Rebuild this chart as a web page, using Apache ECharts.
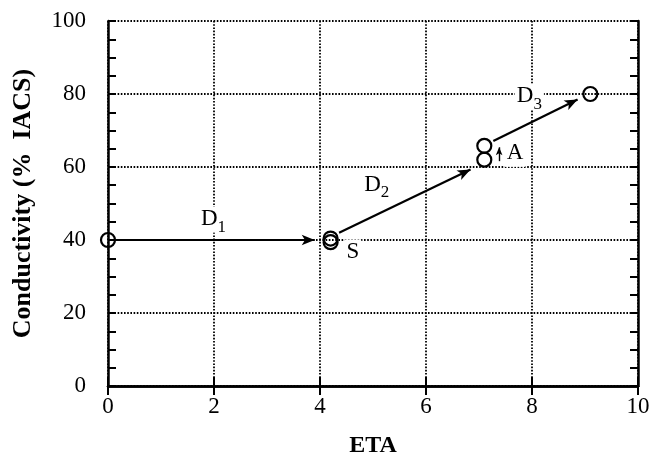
<!DOCTYPE html>
<html>
<head>
<meta charset="utf-8">
<script src="https://cdn.jsdelivr.net/npm/echarts@6/dist/echarts.min.js"></script>
<style>html,body{margin:0;padding:0;background:#fff}#c{width:660px;height:463px}</style>
</head>
<body>
<div id="c"></div>
<script>
// ---- data ----
var xTicks = [0, 2, 4, 6, 8, 10];
var yTicks = [0, 20, 40, 60, 80, 100];
var circles = [[0, 40], [4.2, 40.4], [4.2, 39.4], [7.1, 62], [7.1, 65.8], [9.1, 80]];
var segD1 = [[0.13, 40], [3.9, 40]];
var segD2 = [[4.36, 42], [6.84, 59.3]];
var segD3 = [[7.27, 67.1], [8.86, 78.5]];
var segA = [[7.38, 61.6], [7.38, 65.4]];
var labelNames = ['D1', 'D2', 'D3', 'S', 'A'];
var labelPos = [[1.99, 45.6], [5.07, 55.0], [7.95, 79.3], [4.62, 36.6], [7.68, 63.6]];

var FONT = 'Liberation Serif';
var chart = echarts.init(document.getElementById('c'), null, {renderer: 'canvas'});

function seg(s) { return [{coord: s[0]}, {coord: s[1]}]; }

var labelData = labelNames.map(function (n, i) { return {name: n, value: labelPos[i]}; });

function fmt(p) {
  var n = p.name;
  if (n.charAt(0) === 'D') return '{d|D}{s|' + n.charAt(1) + '}';
  return '{d|' + n + '}';
}

var tickStyle = {color: '#000', width: 2};
var axisLineStyle = {color: '#000', width: 2.5};
var gridStyle = {color: '#000', width: 1.8, type: [1.6, 1.6]};

var option = {
  animation: false,
  backgroundColor: '#fff',
  grid: {left: 108, right: 22, top: 21, bottom: 69},
  xAxis: [{
    type: 'value', min: 0, max: 10, interval: 2,
    name: 'ETA', nameLocation: 'middle', nameGap: 48,
    nameTextStyle: {fontFamily: FONT, fontWeight: 'bold', fontSize: 24, color: '#000'},
    axisLine: {lineStyle: axisLineStyle},
    axisTick: {inside: true, length: 9, lineStyle: tickStyle},
    axisLabel: {fontFamily: FONT, fontSize: 23, color: '#000', margin: 9,
      formatter: function (v) { return xTicks.indexOf(v) >= 0 ? String(v) : ''; }},
    splitLine: {show: true, lineStyle: gridStyle}
  }, {
    type: 'value', min: 0, max: 10, interval: 2, position: 'top',
    axisLine: {lineStyle: axisLineStyle},
    axisTick: {inside: true, length: 9, lineStyle: tickStyle},
    axisLabel: {show: false}, splitLine: {show: false}
  }],
  yAxis: [{
    type: 'value', min: 0, max: 100, interval: 20,
    name: 'Conductivity (%  IACS)', nameLocation: 'middle', nameGap: 72,
    nameTextStyle: {fontFamily: FONT, fontWeight: 'bold', fontSize: 26, color: '#000'},
    axisLine: {lineStyle: axisLineStyle},
    axisTick: {show: false},
    axisLabel: {fontFamily: FONT, fontSize: 23, color: '#000', margin: 22,
      formatter: function (v) { return yTicks.indexOf(v) >= 0 ? String(v) : ''; }},
    splitLine: {show: true, lineStyle: gridStyle}
  }, {
    type: 'value', min: 0, max: 100, interval: 5, position: 'left',
    axisLine: {show: false},
    axisTick: {inside: true, length: 8, lineStyle: tickStyle},
    axisLabel: {show: false}, splitLine: {show: false}
  }, {
    type: 'value', min: 0, max: 100, interval: 5, position: 'right',
    axisLine: {lineStyle: axisLineStyle},
    axisTick: {inside: true, length: 8, lineStyle: tickStyle},
    axisLabel: {show: false}, splitLine: {show: false}
  }],
  series: [{
    type: 'scatter', name: 'points', data: circles,
    symbol: 'circle', symbolSize: 14,
    itemStyle: {color: 'rgba(255,255,255,0)', borderColor: '#000', borderWidth: 2.2, opacity: 1},
    z: 5,
    markLine: {
      silent: true, animation: false,
      symbol: ['none', 'arrow'], symbolSize: [8, 13],
      lineStyle: {color: '#000', width: 2.2, type: 'solid', opacity: 1},
      itemStyle: {color: '#000', opacity: 1},
      label: {show: false},
      data: [seg(segD1), seg(segD2), seg(segD3)]
    }
  }, {
    type: 'scatter', name: 'A arrow', data: [],
    markLine: {
      silent: true, animation: false,
      symbol: ['none', 'arrow'], symbolSize: [5, 8],
      lineStyle: {color: '#000', width: 1.4, type: 'solid', opacity: 1},
      itemStyle: {color: '#000', opacity: 1},
      label: {show: false},
      data: [seg(segA)]
    }
  }, {
    type: 'scatter', name: 'labels', data: labelData,
    symbolSize: 0, z: 6,
    itemStyle: {opacity: 1},
    label: {
      show: true, position: 'inside', formatter: fmt, color: '#000',
      backgroundColor: '#fff', padding: [1, 2, 1, 2],
      rich: {
        d: {fontFamily: FONT, fontSize: 23, color: '#000', verticalAlign: 'top', lineHeight: 24},
        s: {fontFamily: FONT, fontSize: 17, color: '#000', verticalAlign: 'top', lineHeight: 17, padding: [11, 0, 0, 0]}
      }
    }
  }]
};
chart.setOption(option);
</script>
</body>
</html>
